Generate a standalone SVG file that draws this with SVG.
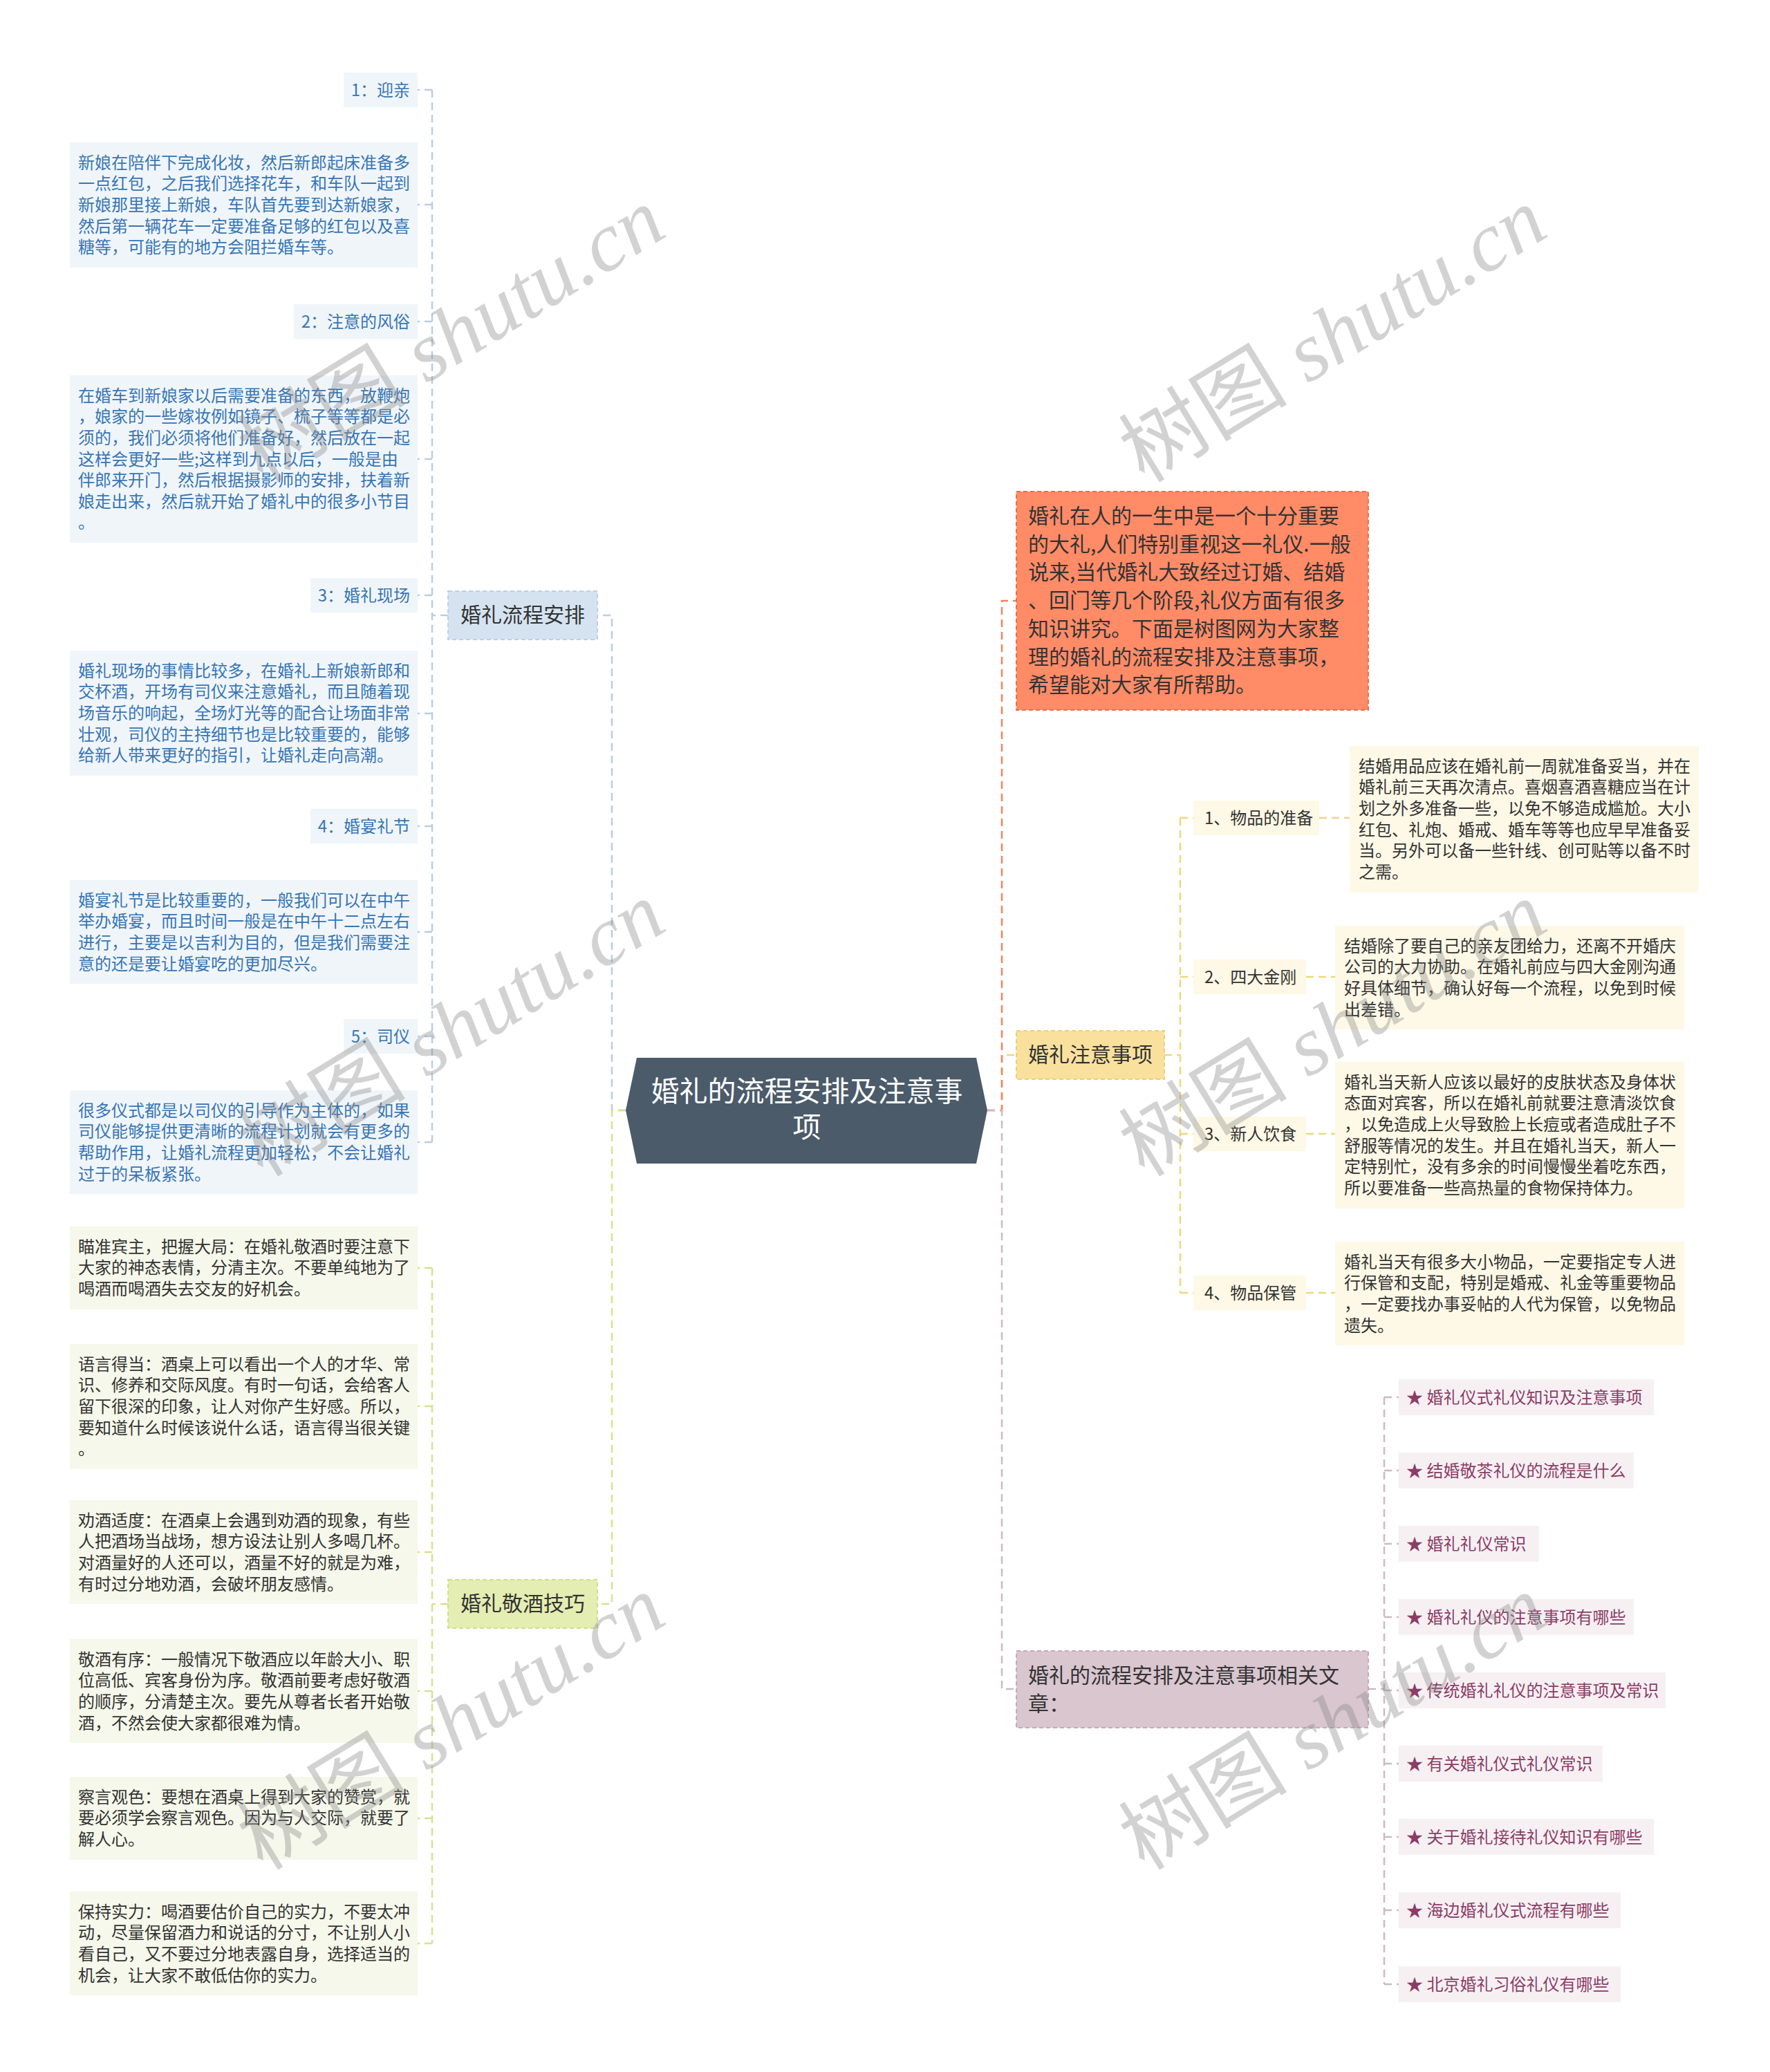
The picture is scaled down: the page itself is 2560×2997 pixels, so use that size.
<svg xmlns="http://www.w3.org/2000/svg" width="2560" height="2997" viewBox="0 0 2560 2997">
<style>
text{font-family:"Noto Sans CJK SC","Noto Sans",sans-serif}
.t24{font-size:24px}
.t30{font-size:30px}
.blue{fill:#3776B5}
.dk{fill:#333333}
.mv{fill:#8C3D66}
.wm{font-size:120px;fill:#888888;fill-opacity:0.38}
.wm tspan.l{font-family:"Liberation Serif",serif;font-style:italic}
.c{fill:none;stroke-width:2.5;stroke-dasharray:11 7}
.cb{stroke:#B9CDE2}.cg{stroke:#D5E28C}.co{stroke:#F0845F}.cy{stroke:#EED77C}.cm{stroke:#CDB9C3}
.lb{fill:#F0F5FA}.lg{fill:#F5F8EA}.ly{fill:#FEF8E6}.lm{fill:#F6F0F3}
.bb{fill:#D5E3F1;stroke:#BCD0E5;stroke-width:2;stroke-dasharray:6 4}
.bg{fill:#E4EDB2;stroke:#D0DD88;stroke-width:2;stroke-dasharray:6 4}
.bo{fill:#FF8B67;stroke:#E8704E;stroke-width:2;stroke-dasharray:6 4}
.by{fill:#F9E19D;stroke:#EDCF74;stroke-width:2;stroke-dasharray:6 4}
.bm{fill:#D9C6CF;stroke:#C4AAB7;stroke-width:2;stroke-dasharray:6 4}
</style>
<rect width="2560" height="2997" fill="#FFFFFF"/>

<g id="connectors">
  <path class="c cb" d="M905,1606 H885 V890 H864"/>
  <path class="c cg" d="M905,1606 H885 V2320 H864"/>
  <path class="c cb" d="M648,890 H625 M625,130 V1652 M625,130 H604 M625,296 H604 M625,465 H604 M625,664 H604 M625,861 H604 M625,1032 H604 M625,1195 H604 M625,1348 H604 M625,1499 H604 M625,1652 H604"/>
  <path class="c cg" d="M648,2320 H625 M625,1834 V2811 M625,1834 H604 M625,2034 H604 M625,2245 H604 M625,2446 H604 M625,2630 H604 M625,2811 H604"/>
  <path class="c cy" d="M1428,1606 H1449 V1526 H1470"/>
  <path class="c co" d="M1428,1606 H1449 V869 H1470"/>
  <path class="c cm" d="M1428,1606 H1449 V2443 H1470"/>
  <path class="c cy" d="M1684,1526 H1707 M1707,1183 V1870 M1707,1183 H1726 M1707,1413 H1726 M1707,1640 H1726 M1707,1870 H1726 M1908,1183 H1952 M1889,1413 H1931 M1889,1640 H1931 M1889,1870 H1931"/>
  <path class="c cm" d="M1979,2443 H2002 M2002,2021 V2870 M2002,2021 H2023 M2002,2127 H2023 M2002,2233 H2023 M2002,2339 H2023 M2002,2445 H2023 M2002,2551 H2023 M2002,2657 H2023 M2002,2763 H2023 M2002,2870 H2023"/>
</g>

<g id="center">
  <polygon points="921,1530 1412,1530 1428,1606 1412,1683 921,1683 905,1606" fill="#4B5B6A"/>
  <text x="1167" y="1593" text-anchor="middle" style="font-size:41px" fill="#FFFFFF">婚礼的流程安排及注意事</text>
  <text x="1167" y="1645" text-anchor="middle" style="font-size:41px" fill="#FFFFFF">项</text>
</g>

<g id="branch-liucheng">
  <rect class="bb" x="648" y="855" width="216" height="70"/>
  <text class="t30 dk" x="756" y="900" text-anchor="middle">婚礼流程安排</text>
</g>
<g id="branch-jingjiu">
  <rect class="bg" x="648" y="2285" width="216" height="70"/>
  <text class="t30 dk" x="756" y="2330" text-anchor="middle">婚礼敬酒技巧</text>
</g>
<g id="intro">
  <rect class="bo" x="1470" y="711" width="509" height="316"/>
  <text class="t30 dk">
    <tspan x="1487" y="757">婚礼在人的一生中是一个十分重要</tspan>
    <tspan x="1487" y="797.7">的大礼,人们特别重视这一礼仪.一般</tspan>
    <tspan x="1487" y="838.4">说来,当代婚礼大致经过订婚、结婚</tspan>
    <tspan x="1487" y="879.1">、回门等几个阶段,礼仪方面有很多</tspan>
    <tspan x="1487" y="919.8">知识讲究。下面是树图网为大家整</tspan>
    <tspan x="1487" y="960.5">理的婚礼的流程安排及注意事项，</tspan>
    <tspan x="1487" y="1001.2">希望能对大家有所帮助。</tspan>
  </text>
</g>
<g id="branch-zhuyi">
  <rect class="by" x="1470" y="1491" width="214" height="70"/>
  <text class="t30 dk" x="1577" y="1536" text-anchor="middle">婚礼注意事项</text>
</g>
<g id="branch-related">
  <rect class="bm" x="1470" y="2388" width="509" height="111"/>
  <text class="t30 dk">
    <tspan x="1487" y="2434">婚礼的流程安排及注意事项相关文</tspan>
    <tspan x="1487" y="2475">章：</tspan>
  </text>
</g>

<!-- left blue leaves -->
<g id="leaf-1-title"><rect class="lb" x="497" y="105" width="107" height="50"/><text class="t24 blue" x="593" y="138.5" text-anchor="end">1：迎亲</text></g>
<g id="leaf-1-desc"><rect class="lb" x="101" y="206" width="503" height="181"/>
  <text class="t24 blue"><tspan x="113" y="243.8">新娘在陪伴下完成化妆，然后新郎起床准备多</tspan><tspan x="113" y="274.4">一点红包，之后我们选择花车，和车队一起到</tspan><tspan x="113" y="305">新娘那里接上新娘，车队首先要到达新娘家，</tspan><tspan x="113" y="335.6">然后第一辆花车一定要准备足够的红包以及喜</tspan><tspan x="113" y="366.2">糖等，可能有的地方会阻拦婚车等。</tspan></text></g>
<g id="leaf-2-title"><rect class="lb" x="425" y="440" width="179" height="50"/><text class="t24 blue" x="593" y="473.5" text-anchor="end">2：注意的风俗</text></g>
<g id="leaf-2-desc"><rect class="lb" x="101" y="543" width="503" height="242"/>
  <text class="t24 blue"><tspan x="113" y="580.8">在婚车到新娘家以后需要准备的东西，放鞭炮</tspan><tspan x="113" y="611.4">，娘家的一些嫁妆例如镜子、梳子等等都是必</tspan><tspan x="113" y="642">须的，我们必须将他们准备好，然后放在一起</tspan><tspan x="113" y="672.6">这样会更好一些;这样到九点以后，一般是由</tspan><tspan x="113" y="703.2">伴郎来开门，然后根据摄影师的安排，扶着新</tspan><tspan x="113" y="733.8">娘走出来，然后就开始了婚礼中的很多小节目</tspan><tspan x="113" y="764.4">。</tspan></text></g>
<g id="leaf-3-title"><rect class="lb" x="449" y="836" width="155" height="50"/><text class="t24 blue" x="593" y="869.5" text-anchor="end">3：婚礼现场</text></g>
<g id="leaf-3-desc"><rect class="lb" x="101" y="941" width="503" height="181"/>
  <text class="t24 blue"><tspan x="113" y="978.8">婚礼现场的事情比较多，在婚礼上新娘新郎和</tspan><tspan x="113" y="1009.4">交杯酒，开场有司仪来注意婚礼，而且随着现</tspan><tspan x="113" y="1040">场音乐的响起，全场灯光等的配合让场面非常</tspan><tspan x="113" y="1070.6">壮观，司仪的主持细节也是比较重要的，能够</tspan><tspan x="113" y="1101.2">给新人带来更好的指引，让婚礼走向高潮。</tspan></text></g>
<g id="leaf-4-title"><rect class="lb" x="449" y="1170" width="155" height="50"/><text class="t24 blue" x="593" y="1203.5" text-anchor="end">4：婚宴礼节</text></g>
<g id="leaf-4-desc"><rect class="lb" x="101" y="1273" width="503" height="150"/>
  <text class="t24 blue"><tspan x="113" y="1310.8">婚宴礼节是比较重要的，一般我们可以在中午</tspan><tspan x="113" y="1341.4">举办婚宴，而且时间一般是在中午十二点左右</tspan><tspan x="113" y="1372">进行，主要是以吉利为目的，但是我们需要注</tspan><tspan x="113" y="1402.6">意的还是要让婚宴吃的更加尽兴。</tspan></text></g>
<g id="leaf-5-title"><rect class="lb" x="497" y="1474" width="107" height="50"/><text class="t24 blue" x="593" y="1507.5" text-anchor="end">5：司仪</text></g>
<g id="leaf-5-desc"><rect class="lb" x="101" y="1577" width="503" height="150"/>
  <text class="t24 blue"><tspan x="113" y="1614.8">很多仪式都是以司仪的引导作为主体的，如果</tspan><tspan x="113" y="1645.4">司仪能够提供更清晰的流程计划就会有更多的</tspan><tspan x="113" y="1676">帮助作用，让婚礼流程更加轻松，不会让婚礼</tspan><tspan x="113" y="1706.6">过于的呆板紧张。</tspan></text></g>

<!-- left green leaves -->
<g id="tip-1"><rect class="lg" x="101" y="1774" width="503" height="120"/>
  <text class="t24 dk"><tspan x="113" y="1811.8">瞄准宾主，把握大局：在婚礼敬酒时要注意下</tspan><tspan x="113" y="1842.4">大家的神态表情，分清主次。不要单纯地为了</tspan><tspan x="113" y="1873">喝酒而喝酒失去交友的好机会。</tspan></text></g>
<g id="tip-2"><rect class="lg" x="101" y="1944" width="503" height="181"/>
  <text class="t24 dk"><tspan x="113" y="1981.8">语言得当：酒桌上可以看出一个人的才华、常</tspan><tspan x="113" y="2012.4">识、修养和交际风度。有时一句话，会给客人</tspan><tspan x="113" y="2043">留下很深的印象，让人对你产生好感。所以，</tspan><tspan x="113" y="2073.6">要知道什么时候该说什么话，语言得当很关键</tspan><tspan x="113" y="2104.2">。</tspan></text></g>
<g id="tip-3"><rect class="lg" x="101" y="2170" width="503" height="150"/>
  <text class="t24 dk"><tspan x="113" y="2207.8">劝酒适度：在酒桌上会遇到劝酒的现象，有些</tspan><tspan x="113" y="2238.4">人把酒场当战场，想方设法让别人多喝几杯。</tspan><tspan x="113" y="2269">对酒量好的人还可以，酒量不好的就是为难，</tspan><tspan x="113" y="2299.6">有时过分地劝酒，会破坏朋友感情。</tspan></text></g>
<g id="tip-4"><rect class="lg" x="101" y="2371" width="503" height="150"/>
  <text class="t24 dk"><tspan x="113" y="2408.8">敬酒有序：一般情况下敬酒应以年龄大小、职</tspan><tspan x="113" y="2439.4">位高低、宾客身份为序。敬酒前要考虑好敬酒</tspan><tspan x="113" y="2470">的顺序，分清楚主次。要先从尊者长者开始敬</tspan><tspan x="113" y="2500.6">酒，不然会使大家都很难为情。</tspan></text></g>
<g id="tip-5"><rect class="lg" x="101" y="2570" width="503" height="120"/>
  <text class="t24 dk"><tspan x="113" y="2607.8">察言观色：要想在酒桌上得到大家的赞赏，就</tspan><tspan x="113" y="2638.4">要必须学会察言观色。因为与人交际，就要了</tspan><tspan x="113" y="2669">解人心。</tspan></text></g>
<g id="tip-6"><rect class="lg" x="101" y="2736" width="503" height="150"/>
  <text class="t24 dk"><tspan x="113" y="2773.8">保持实力：喝酒要估价自己的实力，不要太冲</tspan><tspan x="113" y="2804.4">动，尽量保留酒力和说话的分寸，不让别人小</tspan><tspan x="113" y="2835">看自己，又不要过分地表露自身，选择适当的</tspan><tspan x="113" y="2865.6">机会，让大家不敢低估你的实力。</tspan></text></g>

<!-- right yellow -->
<g id="note-1-title"><rect class="ly" x="1726" y="1158" width="182" height="50"/><text class="t24 dk" x="1742" y="1191.5">1、物品的准备</text></g>
<g id="note-1-desc"><rect class="ly" x="1952" y="1079" width="505" height="212"/>
  <text class="t24 dk"><tspan x="1965" y="1116.8">结婚用品应该在婚礼前一周就准备妥当，并在</tspan><tspan x="1965" y="1147.4">婚礼前三天再次清点。喜烟喜酒喜糖应当在计</tspan><tspan x="1965" y="1178">划之外多准备一些，以免不够造成尴尬。大小</tspan><tspan x="1965" y="1208.6">红包、礼炮、婚戒、婚车等等也应早早准备妥</tspan><tspan x="1965" y="1239.2">当。另外可以备一些针线、创可贴等以备不时</tspan><tspan x="1965" y="1269.8">之需。</tspan></text></g>
<g id="note-2-title"><rect class="ly" x="1726" y="1388" width="163" height="50"/><text class="t24 dk" x="1742" y="1421.5">2、四大金刚</text></g>
<g id="note-2-desc"><rect class="ly" x="1931" y="1339" width="505" height="150"/>
  <text class="t24 dk"><tspan x="1944" y="1376.8">结婚除了要自己的亲友团给力，还离不开婚庆</tspan><tspan x="1944" y="1407.4">公司的大力协助。在婚礼前应与四大金刚沟通</tspan><tspan x="1944" y="1438">好具体细节，确认好每一个流程，以免到时候</tspan><tspan x="1944" y="1468.6">出差错。</tspan></text></g>
<g id="note-3-title"><rect class="ly" x="1726" y="1615" width="163" height="50"/><text class="t24 dk" x="1742" y="1648.5">3、新人饮食</text></g>
<g id="note-3-desc"><rect class="ly" x="1931" y="1536" width="505" height="212"/>
  <text class="t24 dk"><tspan x="1944" y="1573.8">婚礼当天新人应该以最好的皮肤状态及身体状</tspan><tspan x="1944" y="1604.4">态面对宾客，所以在婚礼前就要注意清淡饮食</tspan><tspan x="1944" y="1635">，以免造成上火导致脸上长痘或者造成肚子不</tspan><tspan x="1944" y="1665.6">舒服等情况的发生。并且在婚礼当天，新人一</tspan><tspan x="1944" y="1696.2">定特别忙，没有多余的时间慢慢坐着吃东西，</tspan><tspan x="1944" y="1726.8">所以要准备一些高热量的食物保持体力。</tspan></text></g>
<g id="note-4-title"><rect class="ly" x="1726" y="1845" width="163" height="50"/><text class="t24 dk" x="1742" y="1878.5">4、物品保管</text></g>
<g id="note-4-desc"><rect class="ly" x="1931" y="1796" width="505" height="150"/>
  <text class="t24 dk"><tspan x="1944" y="1833.8">婚礼当天有很多大小物品，一定要指定专人进</tspan><tspan x="1944" y="1864.4">行保管和支配，特别是婚戒、礼金等重要物品</tspan><tspan x="1944" y="1895">，一定要找办事妥帖的人代为保管，以免物品</tspan><tspan x="1944" y="1925.6">遗失。</tspan></text></g>

<!-- related articles -->
<g id="art-1"><rect class="lm" x="2023" y="1995" width="369" height="52"/><text class="t24 mv" x="2034" y="2029.5">★ 婚礼仪式礼仪知识及注意事项</text></g>
<g id="art-2"><rect class="lm" x="2023" y="2101" width="340" height="52"/><text class="t24 mv" x="2034" y="2135.5">★ 结婚敬茶礼仪的流程是什么</text></g>
<g id="art-3"><rect class="lm" x="2023" y="2207" width="203" height="52"/><text class="t24 mv" x="2034" y="2241.5">★ 婚礼礼仪常识</text></g>
<g id="art-4"><rect class="lm" x="2023" y="2313" width="340" height="52"/><text class="t24 mv" x="2034" y="2347.5">★ 婚礼礼仪的注意事项有哪些</text></g>
<g id="art-5"><rect class="lm" x="2023" y="2419" width="386" height="52"/><text class="t24 mv" x="2034" y="2453.5">★ 传统婚礼礼仪的注意事项及常识</text></g>
<g id="art-6"><rect class="lm" x="2023" y="2525" width="295" height="52"/><text class="t24 mv" x="2034" y="2559.5">★ 有关婚礼仪式礼仪常识</text></g>
<g id="art-7"><rect class="lm" x="2023" y="2631" width="369" height="52"/><text class="t24 mv" x="2034" y="2665.5">★ 关于婚礼接待礼仪知识有哪些</text></g>
<g id="art-8"><rect class="lm" x="2023" y="2737" width="321" height="52"/><text class="t24 mv" x="2034" y="2771.5">★ 海边婚礼仪式流程有哪些</text></g>
<g id="art-9"><rect class="lm" x="2023" y="2844" width="321" height="52"/><text class="t24 mv" x="2034" y="2878.5">★ 北京婚礼习俗礼仪有哪些</text></g>

<g id="watermarks">
  <text class="wm" transform="translate(380,700) rotate(-31.5)" textLength="690" lengthAdjust="spacingAndGlyphs">树图<tspan class="l"> shutu.cn</tspan></text>
  <text class="wm" transform="translate(1655,700) rotate(-31.5)" textLength="690" lengthAdjust="spacingAndGlyphs">树图<tspan class="l"> shutu.cn</tspan></text>
  <text class="wm" transform="translate(380,1704) rotate(-31.5)" textLength="690" lengthAdjust="spacingAndGlyphs">树图<tspan class="l"> shutu.cn</tspan></text>
  <text class="wm" transform="translate(1655,1704) rotate(-31.5)" textLength="690" lengthAdjust="spacingAndGlyphs">树图<tspan class="l"> shutu.cn</tspan></text>
  <text class="wm" transform="translate(380,2707) rotate(-31.5)" textLength="690" lengthAdjust="spacingAndGlyphs">树图<tspan class="l"> shutu.cn</tspan></text>
  <text class="wm" transform="translate(1655,2707) rotate(-31.5)" textLength="690" lengthAdjust="spacingAndGlyphs">树图<tspan class="l"> shutu.cn</tspan></text>
</g>
</svg>
